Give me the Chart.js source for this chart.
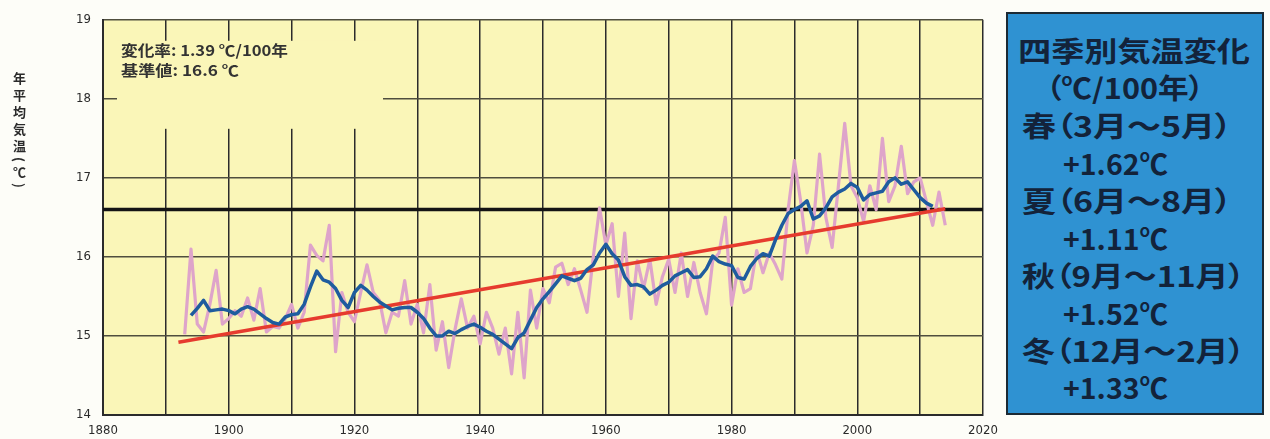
<!DOCTYPE html>
<html lang="ja">
<head>
<meta charset="utf-8">
<title>年平均気温の経年変化</title>
<script src="https://cdn.jsdelivr.net/npm/chart.js@4.4.1/dist/chart.umd.min.js"></script>
<style>
  html, body { margin: 0; padding: 0; background: #fdfdf8; }
  #wrap { position: relative; width: 1270px; height: 439px; overflow: hidden; background: #fdfdf8; }
  #chart { position: absolute; left: 0; top: 0; }
  #ytitle {
    position: absolute; left: 10px; top: 72px;
    writing-mode: vertical-rl; text-orientation: mixed;
    font: 700 13px 'Noto Sans CJK JP', sans-serif; letter-spacing: 4px; color: #2a2a2a;
  }
  #season {
    position: absolute; left: 1006px; top: 12px; width: 258px; height: 403px;
    background: #2f92d2; border: 2px solid #1c2a34; box-sizing: border-box;
  }
  .ln {
    position: absolute; display: inline-block; white-space: nowrap;
    font: 700 28px 'Noto Sans CJK JP', sans-serif; line-height: 28px;
    font-feature-settings: "palt" 1;
    color: #13233a; transform-origin: 0 50%;
  }
</style>
</head>
<body>
<div id="wrap">
  <canvas id="chart" width="1270" height="439"></canvas>
  <div id="ytitle">年平均気温(℃)</div>
  <div id="season"></div>
</div>
<script>
// Annual mean temperature (°C), one value per year
const annualYears = [
  1893,1894,1895,1896,1897,1898,1899,1900,1901,1902,1903,1904,1905,1906,1907,1908,1909,1910,
  1911,1912,1913,1914,1915,1916,1917,1918,1919,1920,1921,1922,1923,1924,1925,1926,1927,1928,
  1929,1930,1931,1932,1933,1934,1935,1936,1937,1938,1939,1940,1941,1942,1943,1944,1945,1946,
  1947,1948,1949,1950,1951,1952,1953,1954,1955,1956,1957,1958,1959,1960,1961,1962,1963,1964,
  1965,1966,1967,1968,1969,1970,1971,1972,1973,1974,1975,1976,1977,1978,1979,1980,1981,1982,
  1983,1984,1985,1986,1987,1988,1989,1990,1991,1992,1993,1994,1995,1996,1997,1998,1999,2000,
  2001,2002,2003,2004,2005,2006,2007,2008,2009,2010,2011,2012,2013,2014
];
const annualTemps = [
  15.02,16.10,15.15,15.05,15.40,15.83,15.15,15.22,15.32,15.25,15.48,15.20,15.60,15.05,15.12,15.10,15.22,15.40,
  15.10,15.30,16.15,16.02,15.95,16.40,14.80,15.55,15.30,15.18,15.55,15.90,15.55,15.45,15.04,15.30,15.25,15.70,
  15.15,15.40,15.04,15.65,14.82,15.18,14.60,15.08,15.47,15.10,15.25,14.90,15.30,15.10,14.77,15.10,14.52,15.30,
  14.47,15.58,15.10,15.60,15.42,15.87,15.92,15.65,15.85,15.58,15.30,16.00,16.62,16.15,16.42,15.50,16.30,15.22,
  15.95,15.60,15.97,15.40,15.75,15.97,15.55,16.05,15.50,15.93,15.55,15.28,15.95,16.05,16.50,15.39,15.85,15.55,
  15.60,16.08,15.80,16.05,15.90,15.72,16.60,17.22,16.70,16.05,16.40,17.30,16.50,16.12,16.90,17.69,16.90,16.75,
  16.45,16.90,16.60,17.50,16.70,16.90,17.40,16.80,16.95,17.00,16.70,16.40,16.82,16.40
];

// 5-year running mean (°C)
const smoothYears = [
  1894,1895,1896,1897,1898,1899,1900,1901,1902,1903,1904,1905,1906,1907,1908,1909,1910,1911,
  1912,1913,1914,1915,1916,1917,1918,1919,1920,1921,1922,1923,1924,1925,1926,1927,1928,1929,
  1930,1931,1932,1933,1934,1935,1936,1937,1938,1939,1940,1941,1942,1943,1944,1945,1946,1947,
  1948,1949,1950,1951,1952,1953,1954,1955,1956,1957,1958,1959,1960,1961,1962,1963,1964,1965,
  1966,1967,1968,1969,1970,1971,1972,1973,1974,1975,1976,1977,1978,1979,1980,1981,1982,1983,
  1984,1985,1986,1987,1988,1989,1990,1991,1992,1993,1994,1995,1996,1997,1998,1999,2000,2001,
  2002,2003,2004,2005,2006,2007,2008,2009,2010,2011,2012
];
const smoothTemps = [
  15.26,15.35,15.45,15.32,15.33,15.34,15.32,15.28,15.34,15.37,15.34,15.28,15.22,15.17,15.15,15.24,15.27,15.28,
  15.40,15.62,15.82,15.71,15.68,15.60,15.45,15.36,15.55,15.64,15.58,15.50,15.43,15.38,15.33,15.35,15.36,15.36,
  15.30,15.22,15.10,15.00,15.00,15.06,15.03,15.08,15.12,15.15,15.11,15.06,15.02,14.96,14.90,14.84,14.98,15.04,
  15.20,15.36,15.47,15.56,15.66,15.76,15.73,15.70,15.73,15.84,15.90,16.05,16.16,16.04,15.96,15.75,15.64,15.65,
  15.62,15.53,15.58,15.64,15.68,15.76,15.80,15.84,15.74,15.75,15.85,16.01,15.94,15.91,15.89,15.74,15.72,15.88,
  15.98,16.04,16.01,16.22,16.40,16.55,16.60,16.64,16.71,16.48,16.52,16.62,16.76,16.82,16.86,16.93,16.88,16.72,
  16.79,16.81,16.83,16.95,17.00,16.92,16.95,16.85,16.75,16.68,16.64
];

// Long-term trend (1.39 °C / 100 years)
const trendYears = [1892, 2014];
const trendTemps = [14.92, 16.61];

// Reference value (16.6 °C)
const baseYears = [1880, 2020];
const baseTemps = [16.6, 16.6];

// Axis ticks
const xGridYears = [1880,1890,1900,1910,1920,1930,1940,1950,1960,1970,1980,1990,2000,2010,2020];
const xLabelYears = [1880,1900,1920,1940,1960,1980,2000,2020];
const yTicks = [14,15,16,17,18,19];

// Text
const noteLines = ['変化率: 1.39 ℃/100年', '基準値: 16.6 ℃'];
const seasonLines = [
  '四季別気温変化', '（℃/100年）',
  '春（3月～5月）', '+1.62℃',
  '夏（6月～8月）', '+1.11℃',
  '秋（9月～11月）', '+1.52℃',
  '冬（12月～2月）', '+1.33℃'
];

const toPoints = (xs, ys) => xs.map((x, i) => ({ x: x, y: ys[i] }));

const PLOT_BG = '#faf6b8';
const TICK_FONT = "'Liberation Sans Narrow', 'DejaVu Sans Condensed', 'Liberation Sans', sans-serif";

// Yellow plot background and the rate/reference note in the upper-left corner
const plotFrame = {
  id: 'plotFrame',
  beforeDraw(chart) {
    const { ctx, chartArea: a } = chart;
    ctx.save();
    ctx.fillStyle = PLOT_BG;
    ctx.fillRect(a.left, a.top, a.right - a.left, a.bottom - a.top);
    ctx.restore();
  },
  beforeDatasetsDraw(chart) {
    const { ctx, chartArea: a } = chart;
    ctx.save();
    ctx.fillStyle = PLOT_BG;
    ctx.fillRect(a.left + 14, a.top + 21, 266, 88);
    ctx.fillStyle = '#333333';
    ctx.font = "700 15px 'Noto Sans CJK JP', sans-serif";
    ctx.textBaseline = 'middle';
    const targets = [167, 118];
    noteLines.forEach((t, i) => {
      const w = ctx.measureText(t).width;
      const s = Math.min(1.35, targets[i] / w);
      ctx.save();
      ctx.translate(a.left + 18, a.top + 30 + i * 20);
      ctx.scale(s, 1);
      ctx.fillText(t, 0, 0);
      ctx.restore();
    });
    ctx.restore();
  }
};

new Chart(document.getElementById('chart'), {
  type: 'line',
  data: {
    datasets: [
      { label: '5年移動平均', data: toPoints(smoothYears, smoothTemps), borderColor: '#1f5c9e', borderWidth: 3.5, order: 0 },
      { label: '長期変化傾向', data: toPoints(trendYears, trendTemps), borderColor: '#e63b2e', borderWidth: 3.5, order: 1 },
      { label: '年平均気温', data: toPoints(annualYears, annualTemps), borderColor: '#dea4ca', borderWidth: 3.2, order: 2 },
      { label: '基準値', data: toPoints(baseYears, baseTemps), borderColor: '#141414', borderWidth: 3.5, order: 3 }
    ]
  },
  options: {
    responsive: false,
    animation: false,
    devicePixelRatio: 1,
    layout: { padding: { left: 0, right: 287, top: 13, bottom: 0 } },
    plugins: { legend: { display: false }, tooltip: { enabled: false } },
    elements: {
      point: { radius: 0 },
      line: { tension: 0, borderJoinStyle: 'round', fill: false }
    },
    scales: {
      x: {
        type: 'linear', min: 1880, max: 2020,
        afterBuildTicks: s => { s.ticks = xGridYears.map(v => ({ value: v })); },
        afterFit: s => { s.height = 24; },
        ticks: {
          autoSkip: false, maxRotation: 0, padding: 8, color: '#2a2a2a',
          font: { family: TICK_FONT, size: 13 },
          callback: v => xLabelYears.includes(v) ? String(v) : ''
        },
        grid: { color: '#2b2b2b', lineWidth: 1.5, drawTicks: false },
        border: { color: '#2b2b2b', width: 2 }
      },
      y: {
        type: 'linear', min: 14, max: 19,
        afterBuildTicks: s => { s.ticks = yTicks.map(v => ({ value: v })); },
        afterFit: s => { s.width = 103; },
        ticks: { padding: 12, color: '#2a2a2a', font: { family: TICK_FONT, size: 13 } },
        grid: { color: '#4f4e3e', lineWidth: 1.5, drawTicks: false },
        border: { color: '#2b2b2b', width: 2 }
      }
    }
  },
  plugins: [plotFrame]
});

// Seasonal trend panel
const seasonLayout = [
  { left: 1018, cy: 50, w: 232 }, { left: 1046, cy: 87, w: 158 },
  { left: 1022, cy: 125, w: 210 }, { left: 1063, cy: 163, w: 105 },
  { left: 1022, cy: 200, w: 210 }, { left: 1063, cy: 238, w: 105 },
  { left: 1022, cy: 275, w: 223 }, { left: 1063, cy: 313, w: 105 },
  { left: 1022, cy: 350, w: 223 }, { left: 1063, cy: 387, w: 105 }
];
const wrap = document.getElementById('wrap');
const spans = seasonLines.map((t, i) => {
  const el = document.createElement('span');
  el.className = 'ln';
  el.textContent = t;
  el.style.left = seasonLayout[i].left + 'px';
  el.style.top = (seasonLayout[i].cy - 14) + 'px';
  wrap.appendChild(el);
  return el;
});
function fitSeason() {
  spans.forEach((el, i) => {
    el.style.transform = 'none';
    const w = el.getBoundingClientRect().width;
    if (w > 0) el.style.transform = 'scaleX(' + (seasonLayout[i].w / w) + ')';
  });
}
fitSeason();
if (document.fonts && document.fonts.ready) document.fonts.ready.then(fitSeason);
</script>
</body>
</html>
